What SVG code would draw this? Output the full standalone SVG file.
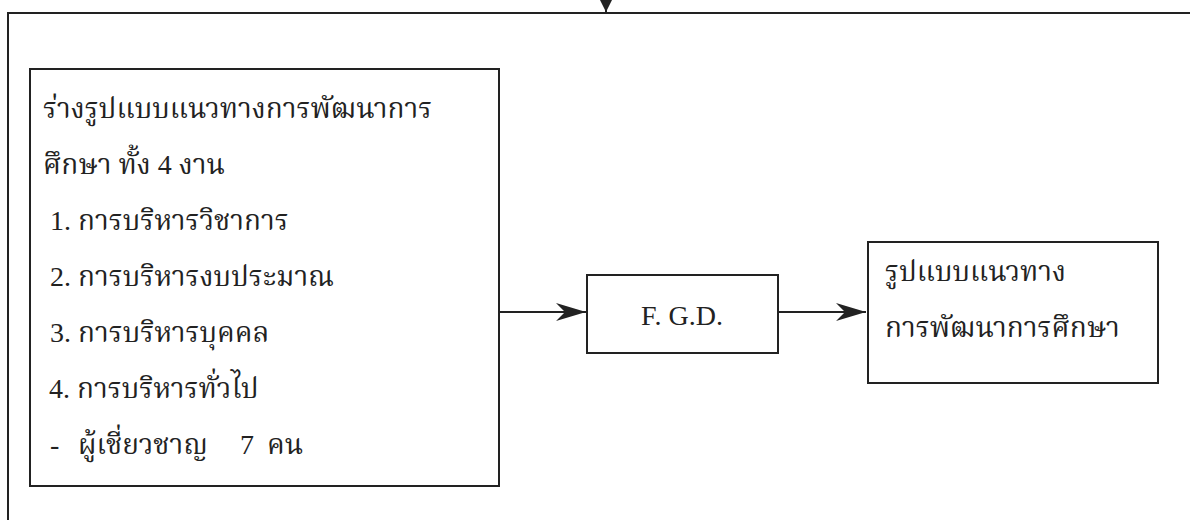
<svg xmlns="http://www.w3.org/2000/svg" width="1190" height="520" viewBox="0 0 1190 520">
<defs>
<style>
.box{fill:#fff;stroke:#222;stroke-width:2}
.ln{fill:none;stroke:#222;stroke-width:2}
.th{font-family:"Liberation Serif","Noto Serif Thai","Noto Sans Thai",serif;font-size:28px;fill:#222}
.en{font-family:"Liberation Serif",serif;font-size:28px;fill:#222}
</style>
<marker id="arr" markerUnits="userSpaceOnUse" markerWidth="32" markerHeight="20" refX="30" refY="10" orient="auto">
<path d="M0,1 L30,10 L0,19 L9,10 Z" fill="#222"/>
</marker>
<marker id="arrS" markerUnits="userSpaceOnUse" markerWidth="12" markerHeight="14" refX="12" refY="6" orient="auto">
<path d="M0,0 L12,6 L0,12 Z" fill="#222"/>
</marker>
</defs>
<rect width="1190" height="520" fill="#fff"/>
<g id="frame">
<path class="ln" d="M8,520 L8,13 L1190,13"/>
</g>
<g id="connectors">
<path class="ln" d="M606,0 L606,12" marker-end="url(#arrS)"/>
<path class="ln" d="M499,312 L586,312" marker-end="url(#arr)"/>
<path class="ln" d="M778,312 L866,312" marker-end="url(#arr)"/>
</g>
<g id="node-draft">
<rect class="box" x="30" y="69" width="469" height="417"/>
<text class="th" x="43" y="118">ร่างรูปแบบแนวทางการพัฒนาการ</text>
<text class="th" x="43" y="174">ศึกษา ทั้ง 4 งาน</text>
<text class="th" x="50" y="230">1. การบริหารวิชาการ</text>
<text class="th" x="50" y="286">2. การบริหารงบประมาณ</text>
<text class="th" x="50" y="342">3. การบริหารบุคคล</text>
<text class="th" x="49" y="398">4. การบริหารทั่วไป</text>
<text class="th" y="454"><tspan x="50">-</tspan><tspan x="78">ผู้เชี่ยวชาญ</tspan><tspan x="240">7</tspan><tspan x="267">คน</tspan></text>
</g>
<g id="node-fgd">
<rect class="box" x="587" y="275" width="191" height="78"/>
<text class="en" x="682" y="325" text-anchor="middle">F. G.D.</text>
</g>
<g id="node-result">
<rect class="box" x="868" y="242" width="290" height="141"/>
<text class="th" x="885" y="281">รูปแบบแนวทาง</text>
<text class="th" x="885" y="337">การพัฒนาการศึกษา</text>
</g>
</svg>
